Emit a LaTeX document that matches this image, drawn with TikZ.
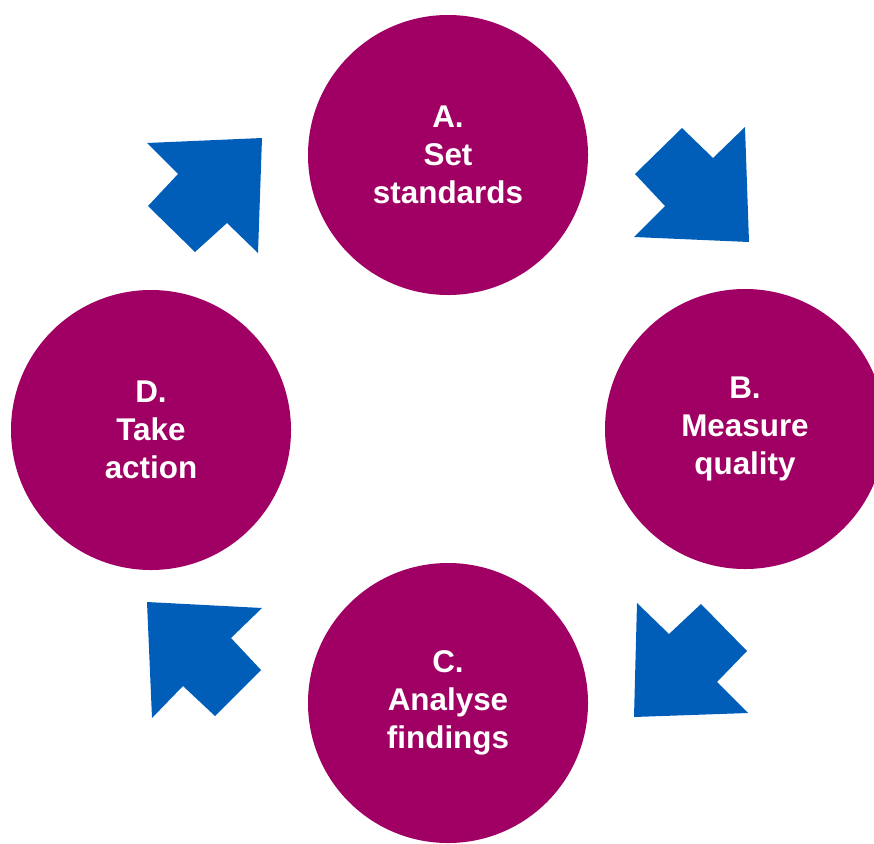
\documentclass[tikz,border=0pt]{standalone}
\usepackage{fontspec}
\setmainfont{Liberation Sans}
\usepackage{xcolor}
\definecolor{stepmagenta}{RGB}{160,0,100}
\definecolor{arrowblue}{RGB}{0,94,184}

\begin{document}
\begin{tikzpicture}[x=0.03cm,y=-0.03cm,
  stage/.style={circle,fill=stepmagenta,text=white,minimum size=8.4cm,inner sep=0pt,
    align=center,font=\fontsize{26.8}{32.4}\selectfont\bfseries},
  blockarrow/.style={fill=arrowblue}]
\useasboundingbox (0,0) rectangle (874,843);
\clip (0,0) rectangle (874,843);
% Stages of the cycle
\node[stage] (a) at (448,155) {A.\\Set\\standards};
\node[stage] (b) at (745,429) {B.\\Measure\\quality};
\node[stage] (c) at (448,703) {C.\\Analyse\\findings};
\node[stage] (d) at (151,430) {D.\\Take\\action};

% Arrows between stages
% A -> B
\fill[blockarrow] (682,128) -- (713,158) -- (745,127) -- (749,242) -- (634,237)
  -- (665,206) -- (635,174) -- cycle;
% B -> C
\fill[blockarrow] (637,603) -- (669,634) -- (701,604) -- (747,651) -- (717,682)
  -- (748,713) -- (634,717) -- cycle;
% C -> D
\fill[blockarrow] (147,602) -- (262,608) -- (231,638) -- (261,670) -- (215,716)
  -- (183,686) -- (152,718) -- cycle;
% D -> A
\fill[blockarrow] (147,143) -- (262,138) -- (258,253) -- (227,223) -- (195,252)
  -- (148,206) -- (178,174) -- cycle;
\end{tikzpicture}
\end{document}
